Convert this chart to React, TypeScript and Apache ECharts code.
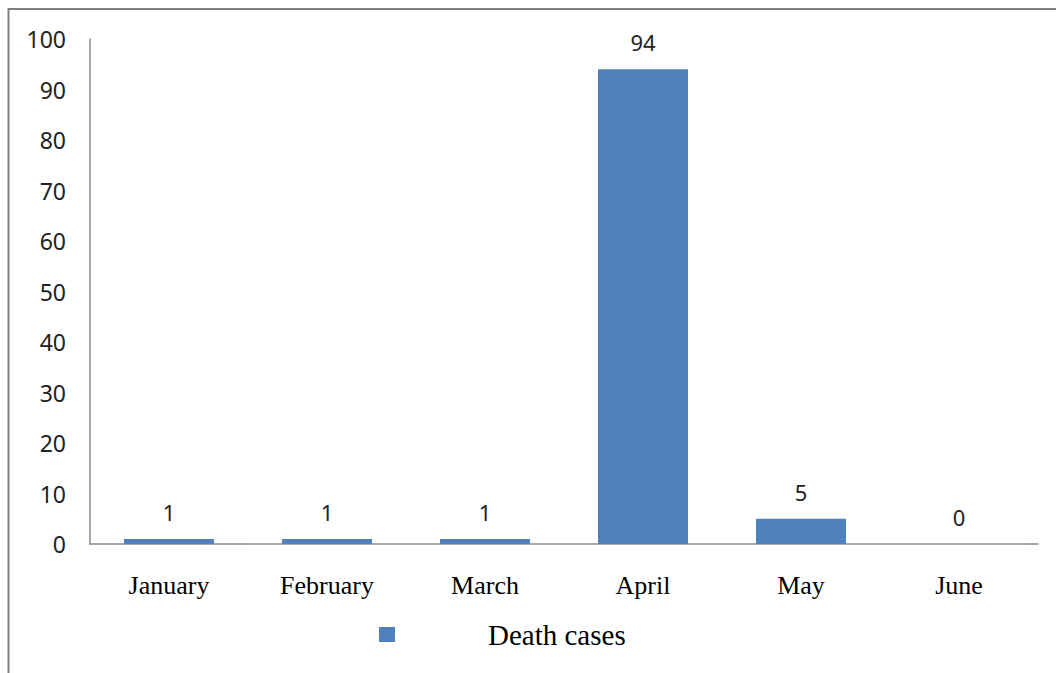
import React, { useEffect, useRef } from "react";
import * as echarts from "echarts";

const categories = ["January", "February", "March", "April", "May", "June"];
const deathCases = [1, 1, 1, 94, 5, 0];
const seriesName = "Death cases";

export default function App() {
  const ref = useRef<HTMLDivElement>(null);
  useEffect(() => {
    if (!ref.current) return;
    const chart = echarts.init(ref.current, null, { renderer: "svg" });
    chart.setOption({
      animation: false,
      backgroundColor: "#ffffff",
      grid: { left: 90, top: 39, right: 18, bottom: 129, containLabel: false },
      legend: {
        data: [seriesName],
        left: 379,
        top: 620,
        padding: 0,
        itemWidth: 16,
        itemHeight: 15,
        icon: "rect",
        textStyle: {
          fontFamily: "Liberation Serif",
          fontSize: 29,
          color: "#000000",
          padding: [0, 0, 0, 88],
        },
      },
      xAxis: {
        type: "category",
        data: categories,
        axisLine: { lineStyle: { color: "#8c8c8c", width: 1.5 } },
        axisTick: { show: false },
        axisLabel: {
          fontFamily: "Liberation Serif",
          fontSize: 26,
          color: "#000000",
          margin: 28,
        },
      },
      yAxis: {
        type: "value",
        min: 0,
        max: 100,
        interval: 10,
        splitLine: { show: false },
        axisLine: { show: true, lineStyle: { color: "#8c8c8c", width: 1.5 } },
        axisTick: { show: false },
        axisLabel: {
          fontFamily: "Noto Sans",
          fontSize: 23,
          color: "#222222",
          margin: 24,
        },
      },
      series: [
        {
          name: seriesName,
          type: "bar",
          data: deathCases,
          barWidth: 90,
          itemStyle: { color: "#4F81BD" },
          label: {
            show: true,
            position: "top",
            distance: 16,
            fontFamily: "Noto Sans",
            fontSize: 22,
            color: "#222222",
          },
        },
      ],
      graphic: [
        {
          type: "polyline",
          shape: { points: [[8.5, 673], [8.5, 9], [1056, 9]] },
          style: { stroke: "#808080", lineWidth: 2, fill: null },
          silent: true,
        },
      ],
    });
    return () => chart.dispose();
  }, []);
  return (
    <div
      ref={ref}
      style={{ position: "fixed", left: 0, top: 0, width: 1056, height: 673 }}
    />
  );
}
